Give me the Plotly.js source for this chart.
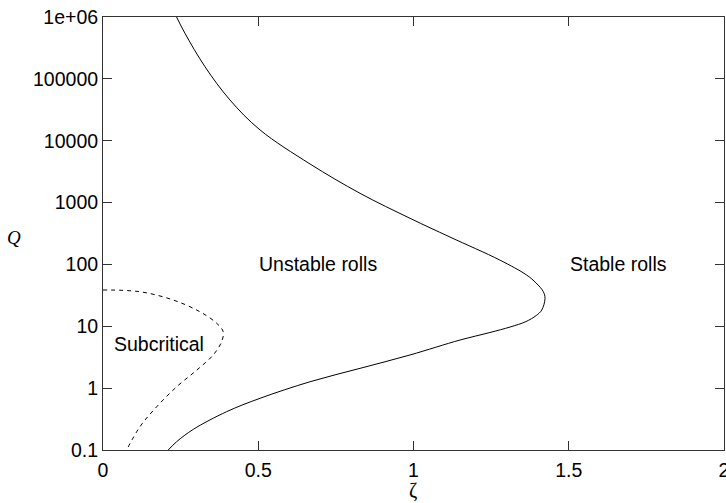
<!DOCTYPE html>
<html>
<head>
<meta charset="utf-8">
<script src="https://cdn.plot.ly/plotly-3.0.1.min.js"></script>
<style>html,body{margin:0;padding:0;background:#fff;}#chart{width:726px;height:503px;}</style>
</head>
<body>
<div id="chart"></div>
<script>
// Neutral stability curve (solid)
const neutralZeta = [0.237, 0.264, 0.3285, 0.409, 0.506, 0.667, 0.828, 0.989, 1.1176, 1.279, 1.364, 1.395, 1.418, 1.4235, 1.413, 1.395, 1.362, 1.311, 1.246, 1.150, 0.989, 0.828, 0.667, 0.506, 0.398, 0.291, 0.237, 0.21];
const neutralQ    = [1.0e6, 5.45e5, 1.57e5, 4.55e4, 1.49e4, 4200, 1410, 556, 277, 117, 67.6, 50, 36.3, 28.2, 18.3, 14.9, 11.9, 9.73, 7.93, 6.0, 3.44, 2.09, 1.27, 0.686, 0.416, 0.216, 0.136, 0.1];
// Subcritical boundary (dashed)
const subZeta = [0, 0.119, 0.226, 0.312, 0.366, 0.387, 0.382, 0.355, 0.302, 0.237, 0.173, 0.119, 0.076];
const subQ    = [38.6, 36.2, 26.6, 17.2, 11.2, 8.18, 5.64, 3.44, 1.96, 1.05, 0.501, 0.238, 0.1];
// Ticks
const xTickVals = [0, 0.5, 1, 1.5, 2];
const xTickText = ['0', '0.5', '1', '1.5', '2'];
const yTickVals = [0.1, 1, 10, 100, 1000, 10000, 100000, 1000000];
const yTickText = ['0.1', '1', '10', '100', '1000', '10000', '100000', '1e+06'];
// Region labels
const labelText = ['Unstable rolls', 'Stable rolls', 'Subcritical'];
const labelZeta = [0.692, 1.659, 0.1788];
const labelQ    = [100, 100, 5.13];

const font = 'Liberation Sans, Arial, Helvetica, sans-serif';

const traces = [
  {x: neutralZeta, y: neutralQ, mode: 'lines', line: {color: '#000', width: 1, shape: 'spline', smoothing: 1}, hoverinfo: 'skip'},
  {x: subZeta, y: subQ, mode: 'lines', line: {color: '#000', width: 1, dash: '4px,4px', shape: 'spline', smoothing: 1}, hoverinfo: 'skip'}
];

const annotations = labelText.map((t, i) => ({
  x: labelZeta[i], y: Math.log10(labelQ[i]), xref: 'x', yref: 'y',
  text: t, showarrow: false, xanchor: 'center', yanchor: 'middle',
  font: {family: font, size: 19.5, color: '#000'}
}));
annotations.push({
  x: -0.1433, y: 0.49, xref: 'paper', yref: 'paper', text: '<i>Q</i>', showarrow: false,
  xanchor: 'center', yanchor: 'middle', font: {family: 'Liberation Serif, Times New Roman, serif', size: 19, color: '#000'}
});
annotations.push({
  x: 0.4992, y: -0.094, xref: 'paper', yref: 'paper', text: 'ζ', showarrow: false,
  xanchor: 'center', yanchor: 'middle', font: {family: 'Liberation Serif, Times New Roman, serif', size: 20, color: '#000'}
});

const axisCommon = {
  showgrid: false, zeroline: false, showline: true, linecolor: '#333', linewidth: 1,
  mirror: 'ticks', ticks: 'inside', ticklen: 9, tickcolor: '#333', tickwidth: 1,
  tickfont: {family: font, size: 19.5, color: '#000'}, tickmode: 'array', fixedrange: true,
  ticklabeloverflow: 'allow'
};

const layout = {
  width: 726, height: 503,
  margin: {l: 103, r: 2, t: 17, b: 53, pad: 0},
  paper_bgcolor: '#fff', plot_bgcolor: '#fff',
  showlegend: false,
  xaxis: Object.assign({}, axisCommon, {range: [0, 2], tickvals: xTickVals, ticktext: xTickText, ticklabelstandoff: 3}),
  yaxis: Object.assign({}, axisCommon, {type: 'log', range: [-1, 6], tickvals: yTickVals, ticktext: yTickText}),
  annotations: annotations
};

Plotly.newPlot('chart', traces, layout, {staticPlot: true, displayModeBar: false});
</script>
</body>
</html>
